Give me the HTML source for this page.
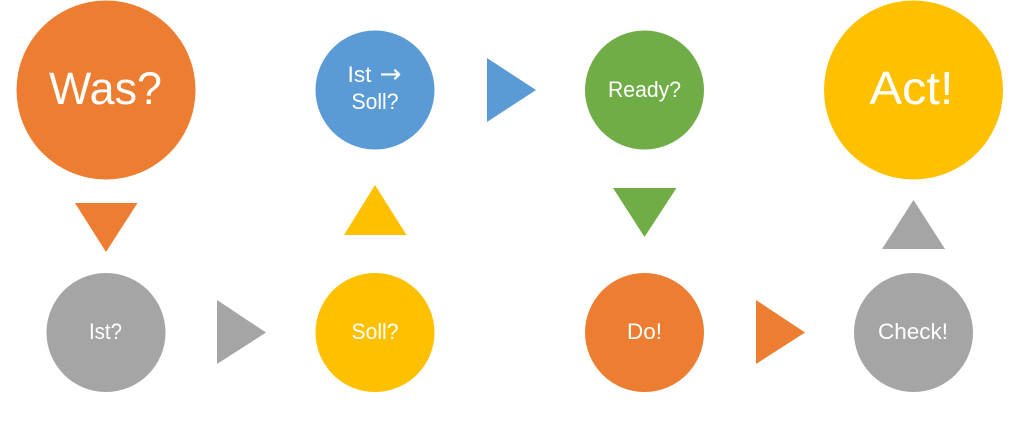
<!DOCTYPE html>
<html>
<head>
<meta charset="utf-8">
<style>
html,body{margin:0;padding:0;background:#fff}
svg{display:block}
text{font-family:"Liberation Sans",sans-serif;fill:#fff;text-anchor:middle}
</style>
</head>
<body>
<svg width="1020" height="422" viewBox="0 0 1020 422" xmlns="http://www.w3.org/2000/svg">
<rect width="1020" height="422" fill="#fff"/>
<circle cx="106" cy="90" r="89.5" fill="#ED7D31"/>
<circle cx="375" cy="90" r="59.5" fill="#5B9BD5"/>
<circle cx="644.5" cy="90" r="59.5" fill="#70AD47"/>
<circle cx="913.5" cy="90" r="89.5" fill="#FFC000"/>
<circle cx="106" cy="332.5" r="59.5" fill="#A5A5A5"/>
<circle cx="375" cy="332.5" r="59.5" fill="#FFC000"/>
<circle cx="644.5" cy="332.5" r="59.5" fill="#ED7D31"/>
<circle cx="913.5" cy="332.5" r="59.5" fill="#A5A5A5"/>
<polygon points="75,203 137.5,203 106,252" fill="#ED7D31"/>
<polygon points="344,235 406.5,235 375,185" fill="#FFC000"/>
<polygon points="487,58 487,122 536,90" fill="#5B9BD5"/>
<polygon points="613,188 676.5,188 644.5,237" fill="#70AD47"/>
<polygon points="882,249 945,249 913.5,200" fill="#A5A5A5"/>
<polygon points="217,300 217,364 266,332.5" fill="#A5A5A5"/>
<polygon points="756,300 756,364 805,332.5" fill="#ED7D31"/>
<text x="105.5" y="104" font-size="45" textLength="113" lengthAdjust="spacingAndGlyphs">Was?</text>
<text x="911.5" y="104" font-size="46" textLength="84" lengthAdjust="spacingAndGlyphs">Act!</text>
<text x="359.5" y="82" font-size="22" textLength="24" lengthAdjust="spacingAndGlyphs">Ist</text>
<text x="390.5" y="82.5" font-size="26" style="font-family:'DejaVu Sans',sans-serif" textLength="22" lengthAdjust="spacingAndGlyphs">→</text>
<text x="375" y="109" font-size="22" textLength="47" lengthAdjust="spacingAndGlyphs">Soll?</text>
<text x="644.5" y="97" font-size="22" textLength="73" lengthAdjust="spacingAndGlyphs">Ready?</text>
<text x="105.5" y="339" font-size="22" textLength="33" lengthAdjust="spacingAndGlyphs">Ist?</text>
<text x="375" y="339" font-size="22" textLength="47" lengthAdjust="spacingAndGlyphs">Soll?</text>
<text x="644.5" y="339" font-size="22" textLength="35" lengthAdjust="spacingAndGlyphs">Do!</text>
<text x="913" y="339" font-size="22" textLength="70" lengthAdjust="spacingAndGlyphs">Check!</text>
</svg>
</body>
</html>
